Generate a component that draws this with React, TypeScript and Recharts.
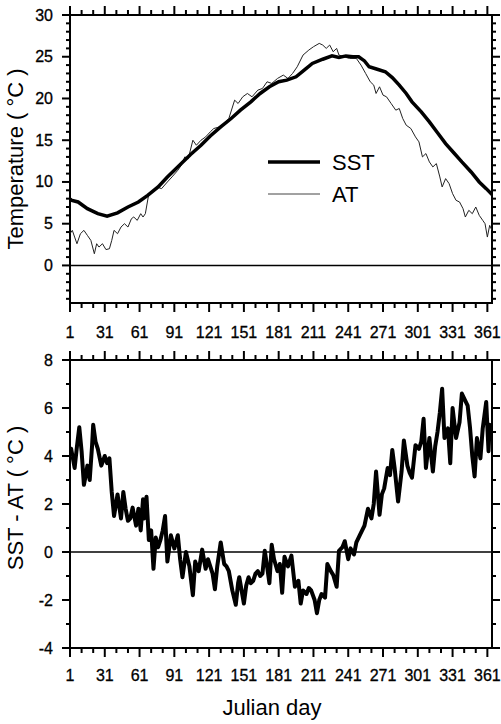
import React from "react";
import {
  LineChart,
  Line,
  XAxis,
  YAxis,
  ReferenceLine,
  ReferenceArea,
  Legend,
} from "recharts";

// sea surface temperature, daily mean
const sstDays = [1, 2, 8, 16, 25, 33, 42, 51, 60, 68, 77, 85, 97, 105, 114, 122, 131, 140, 148, 157, 165, 173, 181, 188, 196, 203, 210, 219, 227, 233, 239, 245, 250, 255, 259, 266, 273, 279, 285, 291, 296, 304, 311, 318, 325, 332, 339, 347, 354, 360, 365];
const sstTemp = [8.0, 7.8, 7.6, 6.8, 6.2, 5.9, 6.3, 7.0, 7.6, 8.4, 9.4, 10.6, 12.2, 13.3, 14.4, 15.5, 16.6, 17.6, 18.6, 19.6, 20.6, 21.4, 22.0, 22.2, 22.6, 23.4, 24.2, 24.7, 25.1, 24.9, 25.1, 25.0, 25.0, 24.5, 23.8, 23.5, 23.2, 22.5, 21.6, 20.6, 19.6, 18.4, 17.2, 15.9, 14.6, 13.5, 12.4, 11.2, 10.0, 9.2, 8.5];

// air temperature
const atDays = [1, 3, 5, 7, 10, 13, 16, 19, 22, 24, 26, 29, 32, 35, 37, 39, 42, 45, 48, 51, 54, 56, 59, 62, 64, 66, 69, 72, 76, 80, 85, 89, 94, 97, 100, 103, 107, 110, 114, 118, 122, 125, 130, 134, 138, 143, 146, 150, 154, 158, 163, 167, 171, 175, 180, 185, 189, 193, 197, 202, 207, 211, 216, 219, 222, 225, 228, 231, 233, 237, 242, 248, 252, 256, 260, 263, 265, 268, 271, 274, 278, 282, 285, 288, 291, 295, 299, 302, 305, 308, 311, 314, 317, 320, 322, 325, 328, 331, 334, 337, 340, 342, 345, 348, 351, 354, 357, 359, 361, 363, 365];
const atTemp = [3.8, 4.2, 3.4, 2.6, 3.8, 4.2, 3.6, 3.0, 1.4, 2.6, 2.2, 2.6, 1.9, 2.0, 3.0, 4.2, 3.8, 4.6, 5.0, 4.6, 5.6, 5.8, 5.4, 6.2, 5.8, 6.2, 8.6, 8.8, 9.4, 9.2, 10.0, 10.6, 11.4, 12.0, 13.0, 12.8, 15.0, 14.4, 15.0, 15.4, 16.0, 16.4, 16.6, 17.0, 17.6, 19.8, 19.4, 20.2, 20.6, 20.2, 21.0, 21.2, 22.0, 21.8, 22.4, 22.8, 22.4, 23.0, 23.8, 25.2, 25.8, 26.2, 26.6, 26.4, 26.0, 26.4, 25.6, 26.0, 25.2, 25.0, 24.8, 24.8, 24.0, 23.0, 22.0, 21.6, 20.6, 21.4, 20.4, 20.2, 19.4, 18.6, 18.8, 17.6, 16.8, 16.4, 15.4, 14.8, 13.0, 13.4, 12.4, 11.8, 12.2, 10.6, 9.4, 10.4, 9.8, 8.6, 7.8, 7.6, 6.8, 5.8, 6.6, 6.2, 7.0, 6.0, 5.4, 5.0, 3.4, 4.8, 4.2];

// SST - AT (lower panel)
const diffDays = [1, 2, 5, 7, 9, 11, 13, 15, 16, 18, 20, 21, 23, 25, 28, 31, 33, 35, 37, 39, 42, 45, 47, 49, 51, 53, 55, 58, 60, 62, 64, 65, 67, 69, 71, 73, 75, 77, 79, 81, 83, 85, 88, 91, 94, 96, 98, 101, 104, 107, 109, 112, 115, 118, 120, 122, 124, 126, 128, 131, 134, 136, 138, 141, 144, 146, 147, 149, 151, 153, 155, 157, 159, 161, 163, 165, 167, 169, 171, 173, 175, 177, 180, 182, 184, 186, 189, 192, 195, 198, 200, 202, 205, 207, 209, 212, 214, 216, 218, 221, 223, 226, 228, 231, 233, 236, 238, 241, 243, 246, 248, 251, 253, 255, 258, 261, 263, 265, 268, 270, 272, 275, 277, 279, 281, 284, 287, 289, 292, 294, 296, 299, 302, 304, 306, 308, 311, 314, 316, 318, 320, 322, 324, 327, 329, 331, 334, 337, 339, 342, 344, 346, 348, 350, 352, 355, 357, 360, 362, 363, 365];
const diffTemp = [4.0, 4.3, 3.5, 4.4, 5.2, 4.2, 2.8, 3.3, 3.6, 3.0, 4.4, 5.3, 4.6, 4.3, 3.6, 4.0, 3.7, 3.9, 2.5, 1.5, 2.4, 1.4, 2.5, 1.8, 1.3, 1.4, 1.85, 1.1, 1.8, 0.9, 2.2, 1.4, 2.3, 0.5, 0.9, -0.7, 0.6, 0.2, 0.5, 0.9, 1.5, -0.4, 0.7, 0.15, 0.7, -0.3, -1.05, 0.0, -0.6, -1.8, -0.4, -0.8, 0.1, -0.7, -0.3, -0.6, -0.9, -1.55, -0.6, 0.4, -0.5, -0.6, -0.8, -1.6, -2.2, -1.3, -1.05, -1.6, -2.15, -1.4, -1.05, -1.3, -1.2, -0.9, -0.8, -1.0, -0.9, 0.05, -0.6, -1.3, 0.3, -0.3, -0.8, -0.5, -1.7, -0.2, -0.6, -0.15, -1.45, -1.2, -2.15, -1.6, -1.75, -1.5, -1.6, -2.0, -2.55, -2.0, -1.75, -1.9, -0.5, -0.8, -0.95, -1.45, 0.05, 0.2, 0.45, -0.3, 0.15, -0.1, 0.4, 0.7, 0.9, 1.1, 1.8, 1.4, 2.0, 3.35, 1.55, 2.4, 2.65, 3.5, 3.2, 4.25, 3.5, 2.1, 3.35, 4.65, 3.6, 3.3, 3.1, 4.45, 4.3, 4.6, 5.55, 3.5, 4.75, 3.35, 4.4, 5.0, 5.8, 6.8, 4.75, 5.15, 3.7, 6.0, 4.75, 5.4, 6.6, 6.3, 6.1, 5.2, 4.0, 3.15, 4.75, 3.9, 5.15, 6.25, 4.2, 5.3, 5.0];

const dayTicks = [1, 11, 21, 31, 41, 51, 61, 71, 81, 91, 101, 111, 121, 131, 141, 151, 161, 171, 181, 191, 201, 211, 221, 231, 241, 251, 261, 271, 281, 291, 301, 311, 321, 331, 341, 351, 361];
const tempTicks = [-4, -3, -2, -1, 0, 1, 2, 3, 4, 5, 6, 7, 8, 9, 10, 11, 12, 13, 14, 15, 16, 17, 18, 19, 20, 21, 22, 23, 24, 25, 26, 27, 28, 29, 30];
const diffTicks = [-4, -3, -2, -1, 0, 1, 2, 3, 4, 5, 6, 7, 8];

const sstData = sstDays.map((d, i) => ({ day: d, v: sstTemp[i] }));
const atData = atDays.map((d, i) => ({ day: d, v: atTemp[i] }));
const diffData = diffDays.map((d, i) => ({ day: d, v: diffTemp[i] }));

const FONT = "'Liberation Sans', Arial, Helvetica, sans-serif";
const W = 501;
const LEFT = 70;
const RIGHT = 492;
const PTOP = 15;

const XTick = (props: any) => {
  const { x, payload, bottom, labelGap } = props;
  const v = payload.value;
  const major = (v - 1) % 30 === 0;
  const len = major ? 9 : 5;
  return (
    <g>
      <line x1={x} x2={x} y1={bottom} y2={bottom + len} stroke="#000" strokeWidth={2} />
      <line x1={x} x2={x} y1={PTOP} y2={PTOP - len} stroke="#000" strokeWidth={2} />
      {major && (
        <text x={x} y={bottom + labelGap} textAnchor="middle" dominantBaseline="central" fontFamily={FONT} fontSize={16} fill="#000" stroke="#000" strokeWidth={0.3}>
          {v}
        </text>
      )}
    </g>
  );
};

const YTick = (props: any) => {
  const { y, payload, step } = props;
  const v = payload.value;
  const major = v % step === 0;
  const len = major ? 8 : 4;
  return (
    <g>
      <line x1={LEFT} x2={LEFT - len} y1={y} y2={y} stroke="#000" strokeWidth={2} />
      <line x1={RIGHT} x2={RIGHT + len} y1={y} y2={y} stroke="#000" strokeWidth={2} />
      {major && (
        <text x={LEFT - 17} y={y} textAnchor="end" dominantBaseline="central" fontFamily={FONT} fontSize={16} fill="#000" stroke="#000" strokeWidth={0.3}>
          {v}
        </text>
      )}
    </g>
  );
};

const SideTitle = ({ px, py, text }: any) => (
  <text
    x={0}
    y={0}
    transform={`translate(${px},${py}) rotate(-90)`}
    textAnchor="middle"
    dominantBaseline="central"
    fontFamily={FONT}
    fontSize={22}
    fill="#000"
  >
    {text}
  </text>
);

const BottomTitle = ({ px, py, text }: any) => (
  <text x={px} y={py} textAnchor="middle" fontFamily={FONT} fontSize={22} fill="#000">
    {text}
  </text>
);

const TempLegend = () => (
  <svg width={130} height={60} style={{ display: "block" }}>
    <line x1={6} x2={58} y1={14} y2={14} stroke="#000" strokeWidth={3.5} />
    <text x={70} y={14.5} dominantBaseline="central" fontFamily={FONT} fontSize={22} fill="#000">SST</text>
    <line x1={6} x2={58} y1={46} y2={46} stroke="#444" strokeWidth={1} />
    <text x={70} y={46.5} dominantBaseline="central" fontFamily={FONT} fontSize={22} fill="#000">AT</text>
  </svg>
);

export default function App() {
  const topH = 345;
  const topXH = 42;
  const botH = 379;
  const botXH = 76;
  return (
    <div style={{ position: "absolute", left: 0, top: 0, width: W, height: 724, background: "#fff" }}>
      <div style={{ position: "absolute", left: 0, top: 0 }}>
        <LineChart width={W} height={topH} margin={{ top: PTOP, right: W - RIGHT, left: 0, bottom: 0 }}>
          <XAxis
            type="number"
            dataKey="day"
            domain={[1, 365]}
            ticks={dayTicks}
            interval={0}
            allowDataOverflow
            height={topXH}
            axisLine={false}
            tickLine={false}
            tick={(p: any) => <XTick {...p} bottom={topH - topXH} labelGap={29} />}
          />
          <YAxis
            type="number"
            domain={[-4.5, 30]}
            ticks={tempTicks}
            interval={0}
            allowDataOverflow
            width={LEFT}
            axisLine={false}
            tickLine={false}
            tick={(p: any) => <YTick {...p} step={5} />}
            label={<SideTitle px={15} py={159} text="Temperature ( °C )" />}
          />
          <ReferenceLine y={0} stroke="#000" strokeWidth={1.5} />
          <Line data={atData} dataKey="v" type="linear" stroke="#222" strokeWidth={1} dot={false} isAnimationActive={false} />
          <Line data={sstData} dataKey="v" type="linear" stroke="#000" strokeWidth={3.5} dot={false} isAnimationActive={false} />
          <ReferenceArea x1={1} x2={365} y1={-4.5} y2={30} fill="none" stroke="#000" strokeWidth={2} ifOverflow="visible" />
          <Legend
            layout="vertical"
            align="center"
            verticalAlign="middle"
            content={() => <TempLegend />}
            wrapperStyle={{ left: 262, top: 148, width: 130, height: 60 }}
          />
        </LineChart>
      </div>
      <div style={{ position: "absolute", left: 0, top: topH }}>
        <LineChart width={W} height={botH} margin={{ top: PTOP, right: W - RIGHT, left: 0, bottom: 0 }}>
          <XAxis
            type="number"
            dataKey="day"
            domain={[1, 365]}
            ticks={dayTicks}
            interval={0}
            allowDataOverflow
            height={botXH}
            axisLine={false}
            tickLine={false}
            tick={(p: any) => <XTick {...p} bottom={botH - botXH} labelGap={27} />}
            label={<BottomTitle px={272} py={370} text="Julian day" />}
          />
          <YAxis
            type="number"
            domain={[-4, 8]}
            ticks={diffTicks}
            interval={0}
            allowDataOverflow
            width={LEFT}
            axisLine={false}
            tickLine={false}
            tick={(p: any) => <YTick {...p} step={2} />}
            label={<SideTitle px={15} py={153} text="SST - AT ( °C )" />}
          />
          <ReferenceLine y={0} stroke="#000" strokeWidth={1.5} />
          <Line data={diffData} dataKey="v" type="linear" stroke="#000" strokeWidth={4} strokeLinejoin="round" dot={false} isAnimationActive={false} />
          <ReferenceArea x1={1} x2={365} y1={-4} y2={8} fill="none" stroke="#000" strokeWidth={2} ifOverflow="visible" />
        </LineChart>
      </div>
    </div>
  );
}
